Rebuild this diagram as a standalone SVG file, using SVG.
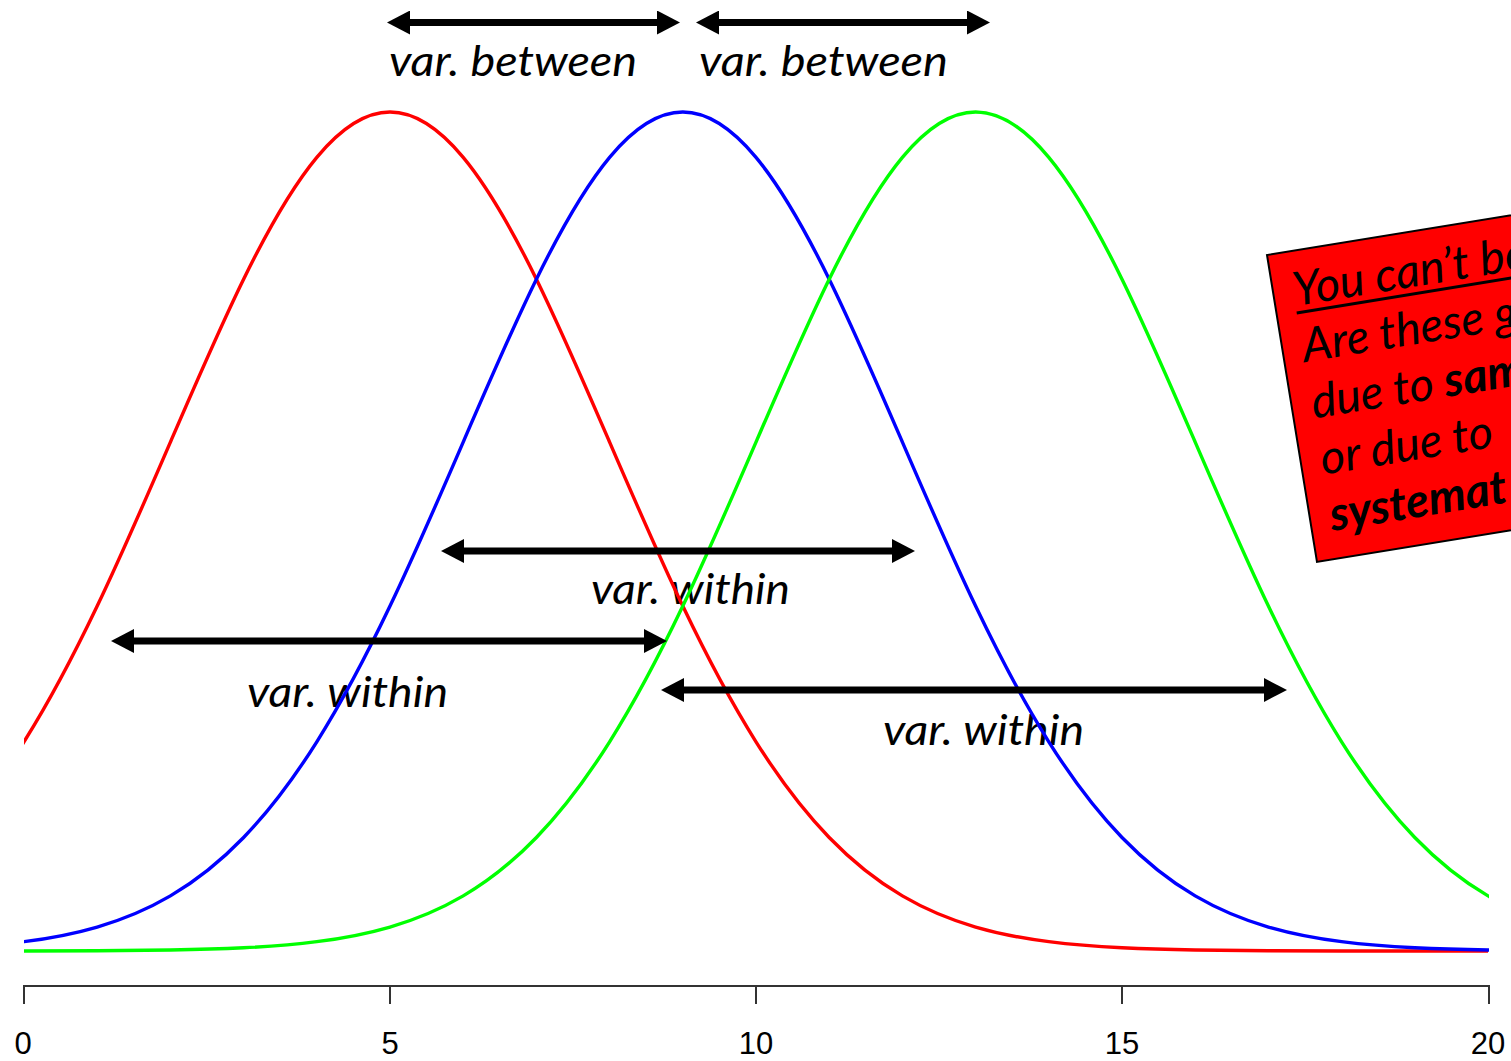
<svg xmlns="http://www.w3.org/2000/svg" width="1511" height="1061" viewBox="0 0 1511 1061">
<style>
.lbl{font-family:Lato,"Open Sans","Liberation Sans",sans-serif;font-style:italic;font-size:43px;fill:#000}
.axl{font-family:"Liberation Sans",Arial,sans-serif;font-size:31px;fill:#000;text-anchor:middle}
.curve{fill:none;stroke-width:3.4}
.arrow{stroke:#000;stroke-width:7;marker-start:url(#ah);marker-end:url(#ah)}
.tick{stroke:#333;stroke-width:2}
.boxt{font-family:Lato,"Open Sans","Liberation Sans",sans-serif;font-style:italic;font-size:47px;fill:#000}
</style>
<defs>
<marker id="ah" markerUnits="userSpaceOnUse" viewBox="0 0 23 24" markerWidth="23" markerHeight="24" refX="3" refY="12" orient="auto-start-reverse"><path d="M0,0 L23,12 L0,24 Z" fill="#000"/></marker>
<clipPath id="plot"><rect x="24" y="0" width="1465" height="1061"/></clipPath>
<path id="gauss" fill="none" d="M-1098,951 L-951.6,950.93 L-878.4,950.72 C-854,950.6 -829.6,950.4 -805.2,949.99 C-780.8,949.58 -756.4,948.96 -732,947.76 C-707.6,946.56 -683.2,944.79 -658.8,941.68 C-634.4,938.57 -610,934.13 -585.6,927.03 C-561.2,919.93 -536.8,910.16 -512.4,895.87 C-488,881.58 -463.6,862.68 -439.2,837.45 C-414.8,812.22 -390.4,780.54 -366,741.8 C-341.6,703.06 -317.2,657.18 -292.8,606.08 C-268.4,554.98 -244,498.66 -219.6,442.12 C-195.2,385.58 -170.8,328.94 -146.4,279.18 C-122,229.42 -97.6,186.73 -73.2,157.34 C-48.8,127.95 -24.4,112 0,112 C24.4,112 48.8,127.95 73.2,157.34 C97.6,186.73 122,229.42 146.4,279.18 C170.8,328.94 195.2,385.58 219.6,442.12 C244,498.66 268.4,554.98 292.8,606.08 C317.2,657.18 341.6,703.06 366,741.8 C390.4,780.54 414.8,812.22 439.2,837.45 C463.6,862.68 488,881.58 512.4,895.87 C536.8,910.16 561.2,919.93 585.6,927.03 C610,934.13 634.4,938.57 658.8,941.68 C683.2,944.79 707.6,946.56 732,947.76 C756.4,948.96 780.8,949.58 805.2,949.99 C829.6,950.4 854,950.6 878.4,950.72 L951.6,950.93 L1098,951"/>
</defs>
<rect width="1511" height="1061" fill="#fff"/>

<g id="labels">
<text class="lbl" x="389" y="76" textLength="248" lengthAdjust="spacingAndGlyphs">var. between</text>
<text class="lbl" x="699" y="76" textLength="249" lengthAdjust="spacingAndGlyphs">var. between</text>
<text class="lbl" x="591" y="604" textLength="199" lengthAdjust="spacingAndGlyphs">var. within</text>
<text class="lbl" x="247" y="707" textLength="201" lengthAdjust="spacingAndGlyphs">var. within</text>
<text class="lbl" x="883" y="745" textLength="201" lengthAdjust="spacingAndGlyphs">var. within</text>
</g>

<g id="curves" class="curve" clip-path="url(#plot)">
<use id="curve-red" href="#gauss" x="390" stroke="#ff0000"/>
<use id="curve-blue" href="#gauss" x="682.8" stroke="#0000ff"/>
<use id="curve-green" href="#gauss" x="975.6" stroke="#00ff00"/>
</g>

<g id="axis">
<line class="tick" x1="24" y1="986" x2="1489" y2="986"/>
<line class="tick" x1="24" y1="985" x2="24" y2="1004"/>
<line class="tick" x1="390" y1="985" x2="390" y2="1004"/>
<line class="tick" x1="756" y1="985" x2="756" y2="1004"/>
<line class="tick" x1="1122" y1="985" x2="1122" y2="1004"/>
<line class="tick" x1="1489" y1="985" x2="1489" y2="1004"/>
<text class="axl" x="23" y="1054">0</text>
<text class="axl" x="390" y="1054">5</text>
<text class="axl" x="756" y="1054">10</text>
<text class="axl" x="1122" y="1054">15</text>
<text class="axl" x="1488" y="1054">20</text>
</g>

<g id="connectors">
<line class="arrow" x1="407" y1="22.5" x2="660" y2="22.5"/>
<line class="arrow" x1="716" y1="22.5" x2="970" y2="22.5"/>
<line class="arrow" x1="461" y1="551" x2="895" y2="551"/>
<line class="arrow" x1="131" y1="641" x2="647" y2="641"/>
<line class="arrow" x1="681" y1="690" x2="1267" y2="690"/>
</g>

<g id="note" transform="translate(1267,255) rotate(-9.25)">
<rect x="0" y="0" width="330" height="311" fill="#ff0000" stroke="#000" stroke-width="2"/>
<line x1="20" y1="62" x2="330" y2="62" stroke="#000" stroke-width="3"/>
<text class="boxt" x="20" y="55">You can’t be</text>
<text class="boxt" x="20" y="112">Are these g</text>
<text class="boxt" x="20" y="169">due to <tspan font-weight="bold">sam</tspan></text>
<text class="boxt" x="20" y="226">or due to</text>
<text class="boxt" x="20" y="283" font-weight="bold">systemat</text>
</g>
</svg>
